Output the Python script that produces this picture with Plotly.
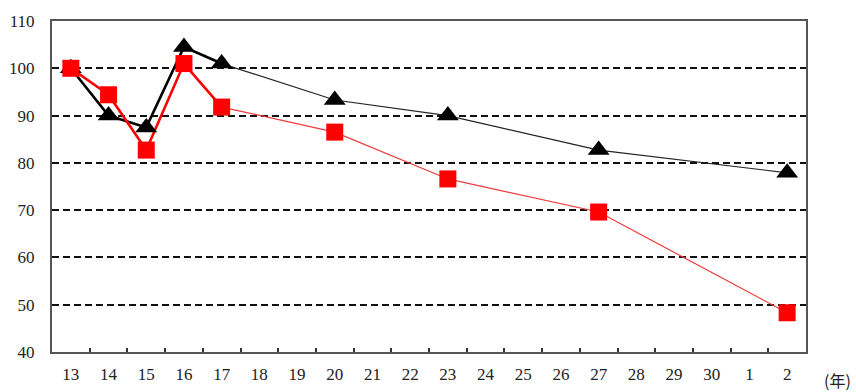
import plotly.graph_objects as go

# Year categories (Heisei 13-30, then Reiwa 1-2)
years = [str(y) for y in range(13, 31)] + ["1", "2"]

# Observed years and index values (base year 13 = 100)
obs_years = ["13", "14", "15", "16", "17", "20", "23", "27", "2"]
black_vals = [100, 90, 87.5, 104.5, 101, 93.3, 90, 82.7, 77.9]
red_vals = [100, 94.4, 82.7, 101, 91.8, 86.5, 76.6, 69.6, 48.3]

y_ticks = [40, 50, 60, 70, 80, 90, 100, 110]

# the annual stretch (13-17) is drawn heavy, the later sparse survey years thin
split = obs_years.index("17")

fig = go.Figure()

for vals, color, thin_color in [
    (black_vals, "#000000", "#222222"),
    (red_vals, "#ff0000", "#f03a3a"),
]:
    fig.add_trace(go.Scatter(
        x=obs_years[: split + 1], y=vals[: split + 1], mode="lines",
        line=dict(color=color, width=2.6), showlegend=False, hoverinfo="skip",
    ))
    fig.add_trace(go.Scatter(
        x=obs_years[split:], y=vals[split:], mode="lines",
        line=dict(color=thin_color, width=1.2), showlegend=False, hoverinfo="skip",
    ))

for vals, color, symbol, size in [
    (black_vals, "#000000", "triangle-up", 19),
    (red_vals, "#ff0000", "square", 17),
]:
    fig.add_trace(go.Scatter(
        x=obs_years, y=vals, mode="markers",
        marker=dict(symbol=symbol, size=size, color=color, line=dict(width=0)),
        showlegend=False,
    ))

tick_font = dict(family="Liberation Serif", size=17, color="#222222")

fig.update_layout(
    width=856, height=392,
    margin=dict(l=52, r=50, t=21, b=40),
    paper_bgcolor="white", plot_bgcolor="white",
    xaxis=dict(
        type="category", categoryorder="array", categoryarray=years,
        tickvals=years, ticktext=years, range=[-0.5, len(years) - 0.5],
        tickson="boundaries", ticks="inside", ticklen=4, tickwidth=1.5, tickcolor="#333333",
        showgrid=False, showline=True, linecolor="#555555", linewidth=2, mirror=True,
        tickfont=tick_font, ticklabelstandoff=6, automargin=False,
    ),
    yaxis=dict(
        range=[40, 110], tickvals=y_ticks, ticks="",
        showgrid=True, gridcolor="#111111", gridwidth=2, griddash="7px,4px",
        showline=True, linecolor="#555555", linewidth=2, mirror=True,
        zeroline=False, tickfont=tick_font, ticklabelstandoff=12, automargin=False,
    ),
    annotations=[dict(
        text="(年)", xref="paper", yref="paper", x=1.062, y=-0.085,
        xanchor="right", yanchor="middle", showarrow=False,
        font=dict(family="Noto Sans CJK JP", size=16, color="#222222"),
    )],
)

fig.write_html("out.html")
